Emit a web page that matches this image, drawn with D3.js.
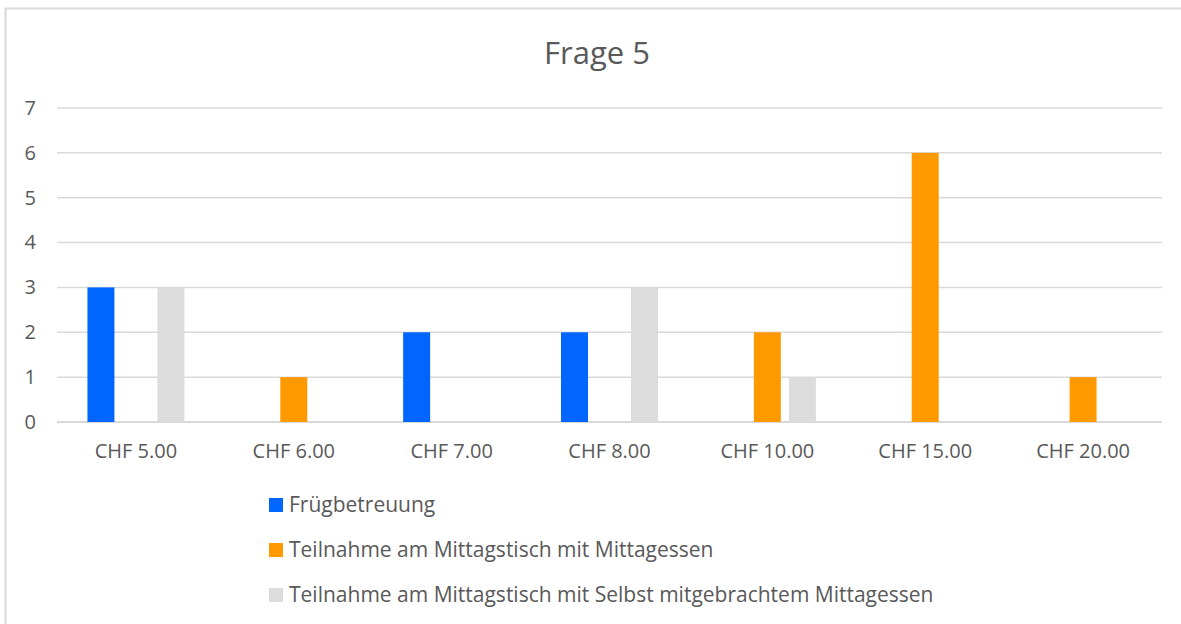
<!DOCTYPE html>
<meta charset="utf-8">
<style>
body { margin: 0; background: #fff; }
svg { font-family: "Open Sans", "Noto Sans", sans-serif; }
.axis .domain, .axis .tick line { display: none; }
.axis text { fill: #595959; font-size: 20px; font-family: "Open Sans", "Noto Sans", sans-serif; }
</style>
<svg width="1181" height="624"></svg>
<script src="https://cdnjs.cloudflare.com/ajax/libs/d3/7.8.5/d3.min.js"></script>
<script>

var categories = ["CHF 5.00", "CHF 6.00", "CHF 7.00", "CHF 8.00", "CHF 10.00", "CHF 15.00", "CHF 20.00"];
var seriesNames = ["Frügbetreuung", "Teilnahme am Mittagstisch mit Mittagessen", "Teilnahme am Mittagstisch mit Selbst mitgebrachtem Mittagessen"];
var fruehbetreuung = [3, 0, 2, 2, 0, 0, 0];
var mitMittagessen = [0, 1, 0, 0, 2, 6, 1];
var selbstMitgebracht = [3, 0, 0, 3, 1, 0, 0];
var yTicks = [0, 1, 2, 3, 4, 5, 6, 7];
var colors = ["#0066ff", "#ff9900", "#dcdcdc"];

var seriesValues = [fruehbetreuung, mitMittagessen, selbstMitgebracht];

var svg = d3.select("svg"),
    margin = {top: 108, right: 19, bottom: 202, left: 57},
    width = +svg.attr("width") - margin.left - margin.right,
    height = +svg.attr("height") - margin.top - margin.bottom;

// chart frame (runs off the right and bottom edges)
svg.append("rect")
    .attr("x", 5.5).attr("y", 8.5)
    .attr("width", 1200).attr("height", 700)
    .attr("fill", "none")
    .attr("stroke", "#d9d9d9")
    .attr("stroke-width", 2);

svg.append("text")
    .attr("x", 597).attr("y", 64)
    .attr("text-anchor", "middle")
    .attr("fill", "#595959")
    .attr("font-size", 31)
    .text("Frage 5");

var g = svg.append("g").attr("transform", "translate(" + margin.left + "," + margin.top + ")");

var x0 = d3.scaleBand().domain(categories).range([0, width]).padding(0);
var x1 = d3.scaleBand().domain(d3.range(seriesNames.length)).range([0, x0.bandwidth()])
    .paddingInner(0.229).paddingOuter(0.87);
var y = d3.scaleLinear().domain([0, 7]).range([height, 0]);

// gridlines
g.append("g")
  .selectAll("line")
  .data(yTicks)
  .enter().append("line")
    .attr("x1", 0).attr("x2", width)
    .attr("y1", function(d) { return y(d); })
    .attr("y2", function(d) { return y(d); })
    .attr("stroke", "#d9d9d9")
    .attr("stroke-width", function(d) { return d === 0 ? 2 : 1.5; });

var data = categories.map(function(c, i) {
  return {category: c, values: seriesValues.map(function(s, k) { return {key: k, value: s[i]}; })};
});

g.append("g")
  .selectAll("g")
  .data(data)
  .enter().append("g")
    .attr("transform", function(d) { return "translate(" + x0(d.category) + ",0)"; })
  .selectAll("rect")
  .data(function(d) { return d.values.filter(function(v) { return v.value > 0; }); })
  .enter().append("rect")
    .attr("x", function(d) { return x1(d.key); })
    .attr("y", function(d) { return y(d.value); })
    .attr("width", x1.bandwidth())
    .attr("height", function(d) { return y(0) - y(d.value); })
    .attr("fill", function(d) { return colors[d.key]; });

g.append("g")
    .attr("class", "axis")
    .attr("transform", "translate(0," + height + ")")
    .call(d3.axisBottom(x0).tickSize(0).tickPadding(22));

g.append("g")
    .attr("class", "axis")
    .attr("transform", "translate(-21,0)")
    .call(d3.axisLeft(y).tickValues(yTicks).tickFormat(d3.format("d")).tickSize(0).tickPadding(0));

var legend = svg.append("g")
  .selectAll("g")
  .data(seriesNames)
  .enter().append("g")
    .attr("transform", function(d, i) { return "translate(269," + (505 + i * 45) + ")"; });

legend.append("rect")
    .attr("x", 0).attr("y", -7)
    .attr("width", 14).attr("height", 14)
    .attr("fill", function(d, i) { return colors[i]; });

legend.append("text")
    .attr("x", 20)
    .attr("dy", "0.35em")
    .attr("fill", "#595959")
    .attr("font-size", 21)
    .text(function(d) { return d; });

</script>
